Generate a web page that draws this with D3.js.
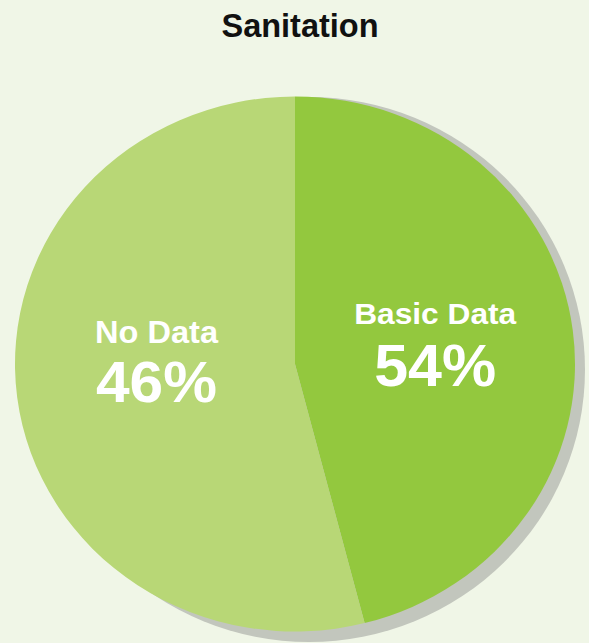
<!DOCTYPE html>
<html>
<head>
<meta charset="utf-8">
<script src="https://cdn.jsdelivr.net/npm/d3@7"></script>
<style>
  html, body { margin: 0; padding: 0; background: #f0f6e7; }
  svg { display: block; }
</style>
</head>
<body>
<script>
var title = 'Sanitation';
var categories = ['Basic Data', 'No Data'];
var labels = ['54%', '46%'];
// slice sizes as drawn in the picture (the split sits at about 165 degrees)
var shares = [46, 54];
var colors = ['#93c83e', '#b8d776'];

var width = 589;
var height = 643;
var cx = 295, cy = 364;
var rx = 280, ry = 267.5;

var svg = d3.select('body')
            .append('svg')
            .attr('width', width)
            .attr('height', height);

svg.append('rect')
    .attr('width', width)
    .attr('height', height)
    .attr('fill', '#f0f6e7');

svg.append('text')
    .attr('x', 300)
    .attr('y', 36.7)
    .attr('text-anchor', 'middle')
    .attr('font-family', 'Liberation Sans, Arial, sans-serif')
    .attr('font-weight', 'bold')
    .attr('font-size', 32.5)
    .attr('fill', '#111')
    .text(title);

// shadow
svg.append('ellipse')
    .attr('cx', cx + 14)
    .attr('cy', cy + 5.5)
    .attr('rx', rx - 4)
    .attr('ry', ry + 5)
    .attr('fill', '#c2c6bd');

var pie = d3.pie()
            .sort(null)
            .value(function (d) { return d; });

var arc = d3.arc()
            .innerRadius(0)
            .outerRadius(rx);

var g = svg.append('g')
           .attr('transform', 'translate(' + cx + ',' + cy + ') scale(1,' + (ry / rx) + ')');

g.selectAll('path')
    .data(pie(shares))
    .enter()
    .append('path')
    .attr('d', arc)
    .attr('fill', function (d, i) { return colors[i]; });

// label layout: [x, name baseline, percent baseline, name size, pct size, name width, pct width]
var labelLayout = [
    [435.2, 324.3, 386, 29.5, 60, 162, 122],
    [156.5, 342.7, 401.7, 31, 58, 123, 121]
];

var lab = svg.selectAll('g.lab')
    .data(categories)
    .enter()
    .append('g')
    .attr('class', 'lab')
    .attr('fill', '#fff')
    .attr('font-family', 'Liberation Sans, Arial, sans-serif')
    .attr('font-weight', 'bold')
    .attr('text-anchor', 'middle');

lab.append('text')
    .attr('x', function (d, i) { return labelLayout[i][0]; })
    .attr('y', function (d, i) { return labelLayout[i][1]; })
    .attr('font-size', function (d, i) { return labelLayout[i][3]; })
    .attr('textLength', function (d, i) { return labelLayout[i][5]; })
    .attr('lengthAdjust', 'spacingAndGlyphs')
    .text(function (d) { return d; });

lab.append('text')
    .attr('x', function (d, i) { return labelLayout[i][0]; })
    .attr('y', function (d, i) { return labelLayout[i][2]; })
    .attr('font-size', function (d, i) { return labelLayout[i][4]; })
    .attr('textLength', function (d, i) { return labelLayout[i][6]; })
    .attr('lengthAdjust', 'spacingAndGlyphs')
    .text(function (d, i) { return labels[i]; });
</script>
</body>
</html>
